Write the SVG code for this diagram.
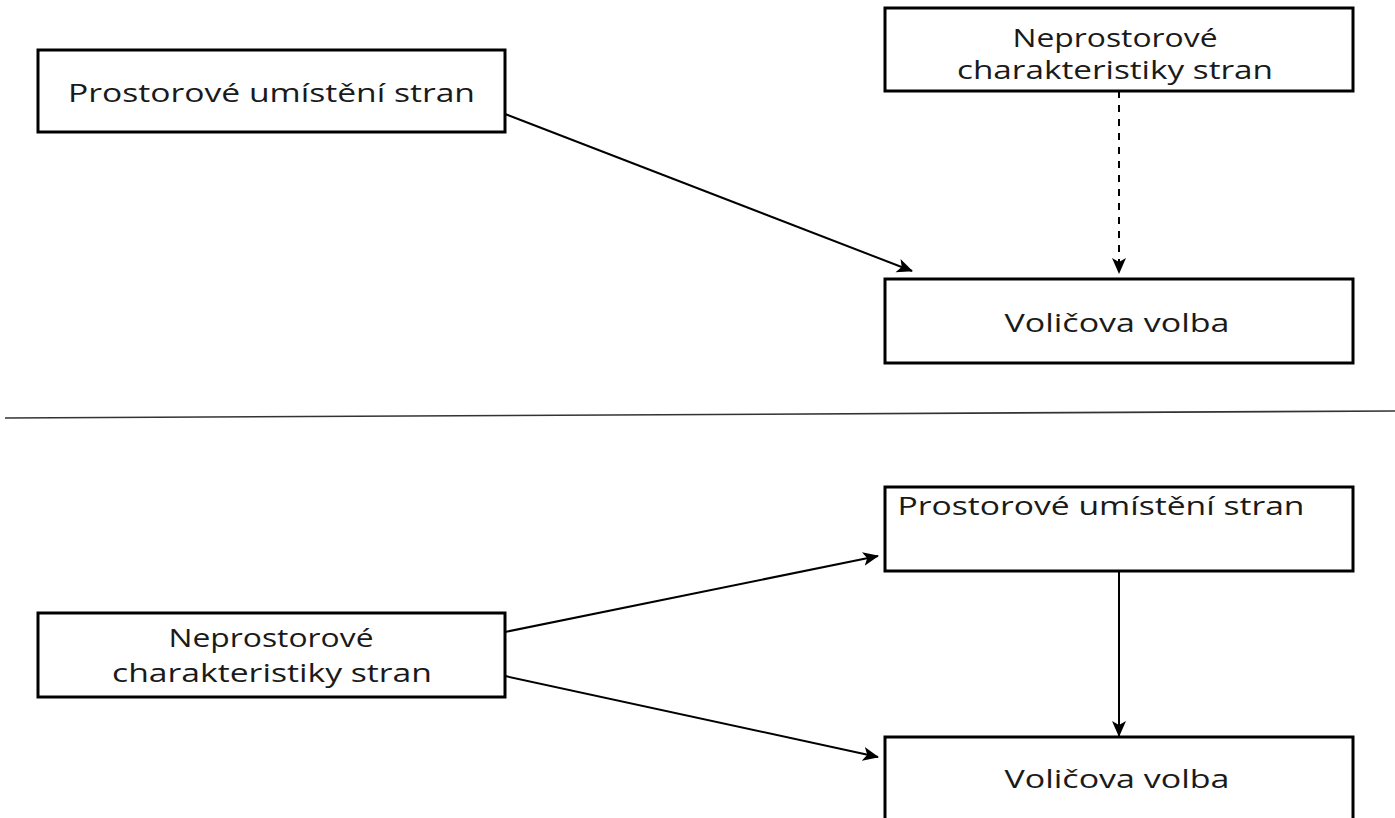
<svg xmlns="http://www.w3.org/2000/svg" width="1395" height="818" viewBox="0 0 1395 818">
<style>
.box{fill:#fff;stroke:#000;stroke-width:3}
.t{font-family:"Open Sans","Liberation Sans",sans-serif;font-size:25px;fill:#1a1a1a}
.c{stroke:#000;stroke-width:2;fill:none}
</style>
<defs>
<marker id="ah" viewBox="0 0 16 16" refX="15" refY="8" markerWidth="16" markerHeight="16" markerUnits="userSpaceOnUse" orient="auto">
<path d="M0,1 L16,8 L0,15 L4,8 z" fill="#000"/>
</marker>
</defs>
<rect width="1395" height="818" fill="#fff"/>
<g id="connectors">
<line class="c" x1="505" y1="114" x2="912" y2="271" marker-end="url(#ah)"/>
<line class="c" x1="1119" y1="91" x2="1119" y2="273" stroke-width="2.6" stroke-dasharray="7,7" marker-end="url(#ah)"/>
<line class="c" x1="505" y1="632" x2="878" y2="556" marker-end="url(#ah)"/>
<line class="c" x1="505" y1="676" x2="878" y2="757" marker-end="url(#ah)"/>
<line class="c" x1="1119" y1="571" x2="1119" y2="736" marker-end="url(#ah)"/>
<line x1="5" y1="418" x2="1395" y2="411" stroke="#333" stroke-width="1.6"/>
</g>
<g id="n1">
<rect class="box" x="38" y="50" width="467" height="82"/>
<text class="t" x="271.5" y="102" text-anchor="middle" textLength="407" lengthAdjust="spacingAndGlyphs">Prostorové umístění stran</text>
</g>
<g id="n2">
<rect class="box" x="885" y="8" width="468" height="83"/>
<text class="t" x="1115" y="47" text-anchor="middle" textLength="205" lengthAdjust="spacingAndGlyphs">Neprostorové</text>
<text class="t" x="1115" y="79" text-anchor="middle" textLength="316" lengthAdjust="spacingAndGlyphs">charakteristiky stran</text>
</g>
<g id="n3">
<rect class="box" x="885" y="279" width="468" height="84"/>
<text class="t" x="1117" y="332" text-anchor="middle" textLength="225" lengthAdjust="spacingAndGlyphs">Voličova volba</text>
</g>
<g id="n4">
<rect class="box" x="885" y="487" width="468" height="84"/>
<text class="t" x="1101" y="515" text-anchor="middle" textLength="407" lengthAdjust="spacingAndGlyphs">Prostorové umístění stran</text>
</g>
<g id="n5">
<rect class="box" x="38" y="613" width="467" height="84"/>
<text class="t" x="271" y="647" text-anchor="middle" textLength="205" lengthAdjust="spacingAndGlyphs">Neprostorové</text>
<text class="t" x="272" y="682" text-anchor="middle" textLength="320" lengthAdjust="spacingAndGlyphs">charakteristiky stran</text>
</g>
<g id="n6">
<rect class="box" x="885" y="737" width="468" height="84"/>
<text class="t" x="1117" y="788" text-anchor="middle" textLength="225" lengthAdjust="spacingAndGlyphs">Voličova volba</text>
</g>
</svg>
